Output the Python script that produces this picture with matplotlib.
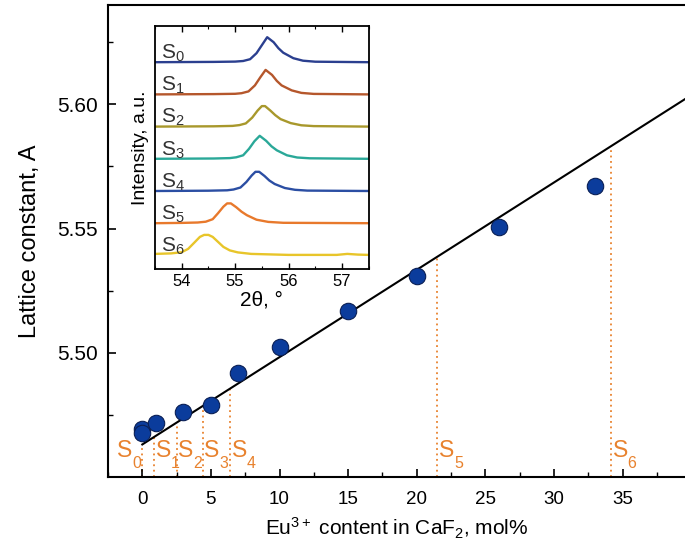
import matplotlib
matplotlib.use("Agg")
import matplotlib.pyplot as plt
import numpy as np
from matplotlib.ticker import MultipleLocator, FixedLocator, FormatStrFormatter

plt.rcParams["font.family"] = ["Liberation Sans", "DejaVu Sans"]
plt.rcParams["mathtext.fontset"] = "custom"
plt.rcParams["mathtext.rm"] = "Liberation Sans"
plt.rcParams["mathtext.it"] = "Liberation Sans:italic"

# lattice constant vs Eu content
eu_content = [0, 0, 1, 3, 5, 7, 10, 15, 20, 26, 33]
lattice = [5.4692, 5.4678, 5.4718, 5.4760, 5.4790, 5.4920, 5.5024, 5.5170, 5.5310, 5.5508, 5.5670]

# linear fit shown in the chart
fit_x = [0, 40]
fit_y = [5.4631, 5.6037]

# sample positions (where XRD lattice constant meets the fit)
sample_names = ["0", "1", "2", "3", "4", "5", "6"]
sample_x = [0.0, 0.85, 2.5, 4.4, 6.4, 21.5, 34.16]

# XRD profiles (2theta, intensity a.u.)
xrd_x = [
    [53.5, 54.6, 55.0, 55.15, 55.28, 55.40, 55.50, 55.60, 55.72, 55.81, 55.90, 56.09, 56.27, 56.5, 57.5],
    [53.5, 54.6, 55.0, 55.12, 55.25, 55.37, 55.47, 55.57, 55.69, 55.78, 55.87, 56.06, 56.24, 56.47, 57.5],
    [53.5, 54.6, 54.95, 55.08, 55.20, 55.32, 55.42, 55.50, 55.56, 55.66, 55.75, 55.85, 56.04, 56.24, 56.47, 57.5],
    [53.5, 54.6, 54.9, 55.02, 55.15, 55.26, 55.36, 55.46, 55.58, 55.68, 55.78, 55.97, 56.16, 56.4, 57.5],
    [53.5, 54.5, 54.85, 54.97, 55.10, 55.21, 55.31, 55.38, 55.45, 55.55, 55.64, 55.74, 55.93, 56.12, 56.35, 57.5],
    [53.5, 54.0, 54.3, 54.45, 54.58, 54.68, 54.78, 54.85, 54.92, 55.02, 55.12, 55.22, 55.4, 55.62, 55.9, 57.5],
    [53.5, 53.8, 54.0, 54.12, 54.24, 54.34, 54.42, 54.50, 54.58, 54.68, 54.78, 54.9, 55.05, 55.3, 56.0, 56.9, 57.1, 57.3, 57.5],
]
xrd_y = [
    [0, 0.3, 0.6, 1.2, 3.0, 9, 17, 25, 20, 14, 9.5, 4, 1.5, 0.5, 0],
    [0, 0.3, 0.6, 1.2, 3.0, 9, 17, 24.5, 19.5, 13.5, 9, 4, 1.5, 0.5, 0],
    [0, 0.3, 0.7, 1.5, 3.2, 9, 16, 20.5, 20.5, 16, 11.5, 7.5, 3.5, 1.3, 0.5, 0],
    [0, 0.3, 0.7, 1.5, 3.5, 10, 17.5, 23, 18, 12.5, 8.5, 3.5, 1.3, 0.5, 0],
    [0, 0.3, 0.7, 1.5, 3.5, 9, 15.5, 19.2, 19.2, 15, 10.5, 7, 3, 1.2, 0.4, 0],
    [0, 0.3, 0.7, 1.5, 4, 10, 16.5, 19.8, 19.8, 16, 11.5, 8, 3.5, 1.3, 0.4, 0],
    [1.5, 2.0, 3.2, 6.5, 13, 18.5, 20.5, 20.5, 18.5, 13.5, 8.5, 5, 3, 1.5, 0.5, 0.5, 1.5, 0.8, 0.5],
]
xrd_colors = ["#2b3f8f", "#b5572c", "#a8982c", "#2aa898", "#2b4ea3", "#e8792c", "#e8c52a"]

orange = "#e8822e"

fig = plt.figure(figsize=(6.85, 5.46), dpi=100)
ax = fig.add_axes([108 / 685, 69 / 546, 577 / 685, 472 / 546])

ax.plot(fit_x, fit_y, color="black", lw=1.5, zorder=2)
ax.scatter(eu_content, lattice, s=140, color="#0b3c9c", edgecolor="#0a1f55",
           linewidth=0.8, zorder=3)

slope = (fit_y[1] - fit_y[0]) / (fit_x[1] - fit_x[0])
label_y = 5.4580
for i, (name, sx) in enumerate(zip(sample_names, sample_x)):
    top = fit_y[0] + slope * (sx - fit_x[0])
    ax.plot([sx, sx], [5.45, top], color=orange, lw=1.3, ls=(0, (1, 2)), zorder=1)
    tx = sx - 1.82 if i == 0 else sx + 0.12
    ax.text(tx, label_y, "S", color=orange, fontsize=16.5, ha="left", va="baseline")
    ax.annotate(name, (tx, label_y), xytext=(10.8, -7.5), textcoords="offset points",
                color=orange, fontsize=11.5, ha="left", va="baseline")

ax.set_xlim(-2.5, 39.55)
ax.set_ylim(5.45, 5.64)
ax.xaxis.set_major_locator(MultipleLocator(5))
ax.xaxis.set_minor_locator(MultipleLocator(2.5))
ax.yaxis.set_major_locator(FixedLocator([5.50, 5.55, 5.60]))
ax.yaxis.set_minor_locator(FixedLocator([5.475, 5.525, 5.575, 5.625]))
ax.yaxis.set_major_formatter(FormatStrFormatter("%.2f"))
ax.tick_params(which="major", direction="in", length=6, width=1.2)
ax.tick_params(which="minor", direction="in", length=3.5, width=1.0)
ax.tick_params(axis="y", labelsize=15, pad=7)
ax.tick_params(axis="x", labelsize=13.5, pad=10)
for sp in ax.spines.values():
    sp.set_linewidth(1.5)
ax.spines["right"].set_visible(False)
ax.set_xlabel("Eu$^{\\mathregular{3+}}$ content in CaF$_\\mathregular{2}$, mol%", fontsize=15, labelpad=6)
ax.set_ylabel("Lattice constant, A", fontsize=17, labelpad=12)

# inset with XRD patterns
ins = fig.add_axes([155 / 685, (546 - 268.7) / 546, 213.7 / 685, 242.7 / 546])
for i, (xs, ys, c) in enumerate(zip(xrd_x, xrd_y, xrd_colors)):
    base = 13.3 + 32.2 * (6 - i)
    ins.plot(xs, np.array(ys) + base, color=c, lw=1.7)
    ins.text(0.03, base + 3.5, "S$_\\mathregular{%s}$" % sample_names[i], color="#333333",
             fontsize=15, transform=ins.get_yaxis_transform(), va="baseline")
ins.set_xlim(53.5, 57.5)
ins.set_ylim(0, 242.7)
ins.set_yticks([])
ins.xaxis.set_major_locator(MultipleLocator(1))
ins.xaxis.set_minor_locator(MultipleLocator(0.5))
ins.tick_params(axis="x", which="both", direction="in", top=True, labelsize=12, pad=4)
ins.tick_params(axis="x", which="major", length=4, width=1.0)
ins.tick_params(axis="x", which="minor", length=2.5, width=0.8)
for sp in ins.spines.values():
    sp.set_linewidth(1.3)
ins.set_xlabel("2θ, °", fontsize=15, labelpad=1)
ins.set_ylabel("Intensity, a.u.", fontsize=14, labelpad=4)

fig.savefig("out.png", dpi=100)
